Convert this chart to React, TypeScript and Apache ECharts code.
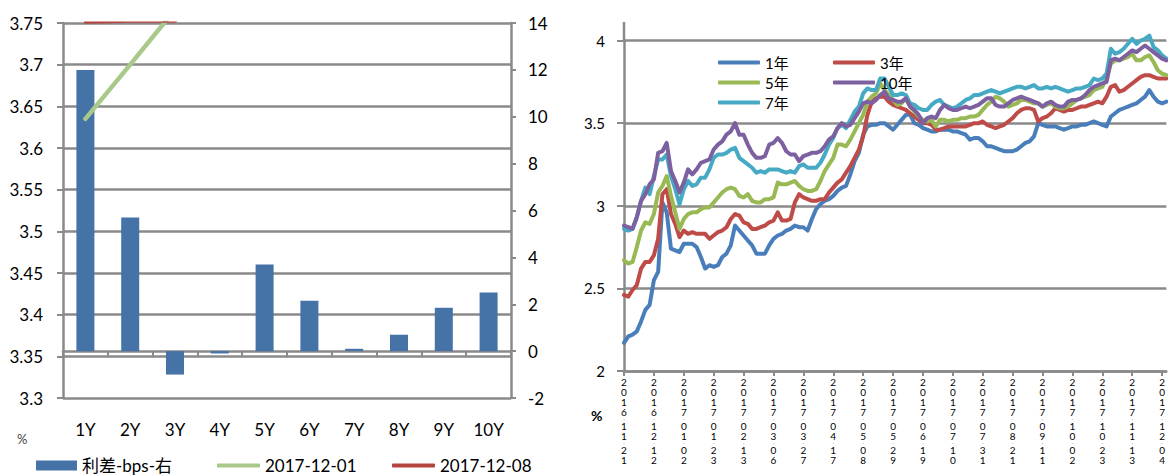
import React, { useEffect, useRef } from 'react';
import * as echarts from 'echarts';

const FONT = "Lato, 'Noto Sans CJK SC', sans-serif";
const GRAY = '#8A8A8A';

// Left panel: term spread chart
const tenors = ['1Y', '2Y', '3Y', '4Y', '5Y', '6Y', '7Y', '8Y', '9Y', '10Y'];
const spreadBps = [12.0, 5.7, -1.0, -0.1, 3.7, 2.15, 0.1, 0.7, 1.85, 2.5];
const curve20171201 = [3.635, 3.7, 3.766, 3.8, 3.83, 3.86, 3.9, 3.9, 3.89, 3.89];
const curve20171208 = [3.751, 3.752, 3.752, 3.8, 3.87, 3.88, 3.9, 3.91, 3.91, 3.91];

// Right panel: yield history (every 3 days from 2016-11-21)
const startDate = Date.UTC(2016, 10, 21);
const pointCount = 128;
const dates: string[] = [];
for (let i = 0; i < pointCount; i++) {
  const d = new Date(startDate + i * 3 * 86400000);
  const mm = String(d.getUTCMonth() + 1).padStart(2, '0');
  const dd = String(d.getUTCDate()).padStart(2, '0');
  dates.push(`${d.getUTCFullYear()}-${mm}-${dd}`);
}

const y1 = [2.17,2.21,2.22,2.24,2.30,2.37,2.40,2.55,2.60,3.02,
 2.96,2.74,2.73,2.72,2.77,2.77,2.77,2.75,2.69,2.62,
 2.64,2.63,2.64,2.69,2.71,2.76,2.88,2.85,2.82,2.79,
 2.76,2.71,2.71,2.71,2.76,2.80,2.82,2.83,2.85,2.86,
 2.88,2.87,2.87,2.85,2.92,2.98,3.01,3.03,3.04,3.06,
 3.09,3.11,3.12,3.19,3.27,3.32,3.43,3.48,3.49,3.49,
 3.50,3.50,3.48,3.46,3.49,3.52,3.55,3.55,3.50,3.49,
 3.47,3.46,3.45,3.45,3.46,3.46,3.46,3.45,3.45,3.44,
 3.43,3.40,3.41,3.41,3.39,3.36,3.36,3.35,3.34,3.33,
 3.33,3.33,3.34,3.36,3.38,3.39,3.42,3.50,3.49,3.48,
 3.48,3.48,3.47,3.46,3.47,3.48,3.48,3.49,3.49,3.50,
 3.51,3.50,3.49,3.48,3.54,3.56,3.58,3.59,3.60,3.61,
 3.62,3.64,3.66,3.70,3.66,3.63,3.62,3.63];

const y3 = [2.46,2.45,2.49,2.52,2.62,2.66,2.66,2.70,2.80,3.07,
 3.10,2.95,2.89,2.81,2.85,2.83,2.84,2.83,2.83,2.83,
 2.80,2.82,2.84,2.85,2.87,2.92,2.95,2.94,2.90,2.89,
 2.86,2.86,2.87,2.88,2.90,2.91,2.96,2.91,2.91,2.92,
 3.02,3.07,3.05,3.04,3.03,3.03,3.04,3.04,3.08,3.11,
 3.14,3.16,3.20,3.24,3.29,3.34,3.42,3.55,3.63,3.65,
 3.66,3.66,3.63,3.61,3.60,3.59,3.58,3.56,3.54,3.52,
 3.50,3.50,3.49,3.46,3.46,3.47,3.48,3.48,3.48,3.48,
 3.48,3.49,3.50,3.50,3.51,3.49,3.48,3.47,3.48,3.49,
 3.51,3.53,3.56,3.58,3.59,3.59,3.58,3.51,3.53,3.54,
 3.56,3.59,3.58,3.57,3.58,3.58,3.59,3.60,3.60,3.61,
 3.62,3.63,3.62,3.66,3.72,3.73,3.69,3.70,3.72,3.74,
 3.76,3.78,3.79,3.79,3.78,3.77,3.77,3.77];

const y5 = [2.67,2.65,2.66,2.75,2.85,2.90,2.89,2.95,3.08,3.12,
 3.18,3.06,2.96,2.86,2.92,2.95,2.96,2.96,2.98,2.99,
 2.99,3.02,3.05,3.08,3.10,3.11,3.10,3.06,3.05,3.07,
 3.03,3.02,3.02,3.04,3.04,3.05,3.14,3.13,3.13,3.14,
 3.15,3.12,3.10,3.09,3.09,3.10,3.15,3.21,3.25,3.29,
 3.37,3.37,3.36,3.40,3.45,3.50,3.55,3.63,3.66,3.68,
 3.74,3.70,3.67,3.64,3.61,3.62,3.65,3.60,3.57,3.54,
 3.52,3.51,3.52,3.48,3.52,3.52,3.51,3.52,3.52,3.53,
 3.53,3.54,3.54,3.55,3.58,3.61,3.63,3.66,3.65,3.63,
 3.60,3.61,3.62,3.64,3.64,3.63,3.62,3.62,3.60,3.61,
 3.62,3.60,3.59,3.59,3.60,3.62,3.64,3.65,3.66,3.67,
 3.70,3.71,3.72,3.77,3.86,3.88,3.88,3.89,3.90,3.92,
 3.88,3.88,3.90,3.91,3.87,3.82,3.80,3.79];

const y7 = [2.86,2.85,2.86,2.93,3.03,3.11,3.07,3.18,3.28,3.28,
 3.31,3.18,3.10,3.01,3.10,3.15,3.12,3.13,3.17,3.17,
 3.22,3.29,3.31,3.31,3.32,3.34,3.35,3.29,3.27,3.25,
 3.23,3.20,3.21,3.20,3.22,3.22,3.22,3.21,3.20,3.21,
 3.20,3.24,3.25,3.23,3.23,3.23,3.26,3.31,3.37,3.41,
 3.47,3.49,3.47,3.52,3.57,3.60,3.68,3.71,3.70,3.70,
 3.77,3.77,3.72,3.67,3.67,3.68,3.67,3.62,3.61,3.59,
 3.58,3.58,3.61,3.63,3.64,3.61,3.60,3.59,3.60,3.62,
 3.64,3.65,3.67,3.67,3.68,3.69,3.70,3.69,3.68,3.69,
 3.70,3.71,3.72,3.72,3.71,3.72,3.73,3.71,3.71,3.72,
 3.71,3.72,3.71,3.70,3.69,3.70,3.71,3.71,3.72,3.73,
 3.77,3.76,3.77,3.80,3.95,3.92,3.93,3.95,3.98,4.01,
 3.98,4.00,4.01,4.03,3.96,3.94,3.91,3.89];

const y10 = [2.88,2.87,2.86,2.93,3.03,3.07,3.13,3.16,3.32,3.33,
 3.38,3.21,3.15,3.08,3.14,3.22,3.19,3.22,3.26,3.27,
 3.28,3.34,3.37,3.39,3.43,3.45,3.50,3.43,3.43,3.37,
 3.32,3.29,3.29,3.30,3.37,3.38,3.41,3.38,3.33,3.31,
 3.31,3.27,3.30,3.31,3.32,3.32,3.33,3.36,3.40,3.42,
 3.47,3.50,3.48,3.49,3.53,3.57,3.62,3.63,3.62,3.64,
 3.67,3.69,3.65,3.64,3.63,3.63,3.65,3.60,3.58,3.55,
 3.50,3.53,3.54,3.53,3.58,3.61,3.59,3.58,3.58,3.59,
 3.60,3.59,3.60,3.61,3.63,3.65,3.65,3.61,3.60,3.60,
 3.62,3.64,3.65,3.66,3.65,3.64,3.63,3.62,3.60,3.62,
 3.63,3.61,3.60,3.60,3.63,3.64,3.64,3.65,3.67,3.70,
 3.72,3.73,3.74,3.75,3.88,3.89,3.88,3.90,3.92,3.94,
 3.93,3.95,3.97,3.95,3.93,3.91,3.89,3.88];

const yieldSeries = [
  { name: '1年', data: y1, color: '#4A7EBB' },
  { name: '3年', data: y3, color: '#BE4B48' },
  { name: '5年', data: y5, color: '#98B954' },
  { name: '7年', data: y7, color: '#46AAC5' },
  { name: '10年', data: y10, color: '#7D60A0' },
];

const rightLegendPos: Record<string, [number, number]> = {
  '1年': [718, 55],
  '3年': [833, 55],
  '5年': [718, 75],
  '10年': [833, 75],
  '7年': [718, 95],
};

export default function App() {
  const ref = useRef<HTMLDivElement>(null);
  useEffect(() => {
    const chart = echarts.init(ref.current!, null, { renderer: 'svg' });
    const axisLine = { show: true, lineStyle: { color: GRAY, width: 2.5 } };
    const tickStyle = { color: GRAY, width: 2 };
    const option: any = {
      animation: false,
      backgroundColor: '#fff',
      textStyle: { fontFamily: FONT },
      grid: [
        { left: 63, top: 23, width: 448, height: 375 },
        { left: 624, top: 40.5, width: 547.4, height: 330.5 },
      ],
      xAxis: [
        {
          type: 'category', gridIndex: 0, data: tenors,
          axisLine, axisTick: { show: true, length: 6, lineStyle: tickStyle },
          axisLabel: { color: '#000', fontSize: 17, margin: 23, fontFamily: FONT },
        },
        {
          type: 'category', gridIndex: 1, data: dates, boundaryGap: false,
          axisLine, axisTick: { show: true, interval: 6, length: 5, lineStyle: tickStyle },
          axisLabel: {
            interval: 6, color: '#000', margin: 6,
            formatter: (v: string) =>
              v.split('').map((c) => (c === '-' ? '{h|-}' : `{d|${c}}`)).join('\n'),
            rich: {
              d: { fontSize: 10, lineHeight: 10, color: '#000', fontFamily: FONT },
              h: { fontSize: 4, lineHeight: 4, color: '#000', fontFamily: FONT },
            },
          },
        },
      ],
      yAxis: [
        {
          type: 'value', gridIndex: 0, min: 3.3, max: 3.75, interval: 0.05,
          axisLine, axisTick: { show: true, length: 6, lineStyle: tickStyle },
          splitLine: { show: true, lineStyle: { color: GRAY, width: 2.5 } },
          axisLabel: { color: '#000', fontSize: 17, margin: 20, fontFamily: FONT },
        },
        {
          type: 'value', gridIndex: 0, position: 'right', min: -2, max: 14, interval: 2,
          axisLine, axisTick: { show: true, length: 5, lineStyle: tickStyle },
          splitLine: { show: false },
          axisLabel: { color: '#000', fontSize: 17, margin: 17, fontFamily: FONT },
        },
        {
          type: 'value', gridIndex: 1, min: 2, max: 4, interval: 0.5,
          axisLine, axisTick: { show: true, length: 7, lineStyle: tickStyle },
          splitLine: { show: true, lineStyle: { color: GRAY, width: 2.5 } },
          axisLabel: { color: '#000', fontSize: 15, margin: 19, fontFamily: FONT },
        },
      ],
      legend: [
        {
          data: [{ name: '利差-bps-右', icon: 'rect' }], left: 36, top: 457, padding: 0,
          itemWidth: 41, itemHeight: 10, textStyle: { fontSize: 17, color: '#000', fontFamily: FONT },
        },
        {
          data: [{ name: '2017-12-01', icon: 'roundRect' }], left: 217, top: 457, padding: 0,
          itemWidth: 43, itemHeight: 4, textStyle: { fontSize: 17, color: '#000', fontFamily: FONT },
        },
        {
          data: [{ name: '2017-12-08', icon: 'roundRect' }], left: 392, top: 457, padding: 0,
          itemWidth: 43, itemHeight: 4, textStyle: { fontSize: 17, color: '#000', fontFamily: FONT },
        },
        ...Object.keys(rightLegendPos).map((name) => ({
          data: [{ name, icon: 'roundRect' }],
          left: rightLegendPos[name][0], top: rightLegendPos[name][1], padding: 0,
          itemWidth: 42, itemHeight: 4, textStyle: { fontSize: 15, color: '#000', fontFamily: FONT },
        })),
      ],
      graphic: [
        {
          type: 'line', shape: { x1: 624, y1: 22, x2: 624, y2: 41 },
          style: { stroke: GRAY, lineWidth: 2.5 },
        },
        {
          type: 'text', left: 17, top: 432,
          style: { text: '%', fontSize: 13, fill: '#444', fontFamily: FONT },
        },
        {
          type: 'text', left: 591, top: 408,
          style: { text: '%', fontSize: 14, fontWeight: 'bold', fill: '#000', fontFamily: FONT },
        },
      ],
      series: [
        {
          name: '利差-bps-右', type: 'bar', xAxisIndex: 0, yAxisIndex: 1,
          data: spreadBps, barWidth: 18, itemStyle: { color: '#4572A7' },
        },
        {
          name: '2017-12-01', type: 'line', xAxisIndex: 0, yAxisIndex: 0,
          data: curve20171201, symbol: 'none', color: '#A9C98B',
          lineStyle: { width: 4.5, color: '#A9C98B', cap: 'round', join: 'round' },
        },
        {
          name: '2017-12-08', type: 'line', xAxisIndex: 0, yAxisIndex: 0,
          data: curve20171208, symbol: 'none', color: '#B5443F',
          lineStyle: { width: 3, color: '#B5443F', cap: 'round' },
        },
        ...yieldSeries.map((s) => ({
          name: s.name, type: 'line', xAxisIndex: 1, yAxisIndex: 2,
          data: s.data, symbol: 'none', clip: false, color: s.color,
          lineStyle: { width: 4, color: s.color, cap: 'round', join: 'round' },
        })),
      ],
    };
    chart.setOption(option);
    return () => chart.dispose();
  }, []);
  return (
    <div
      ref={ref}
      style={{ position: 'fixed', left: 0, top: 0, width: 1168, height: 475 }}
    />
  );
}
